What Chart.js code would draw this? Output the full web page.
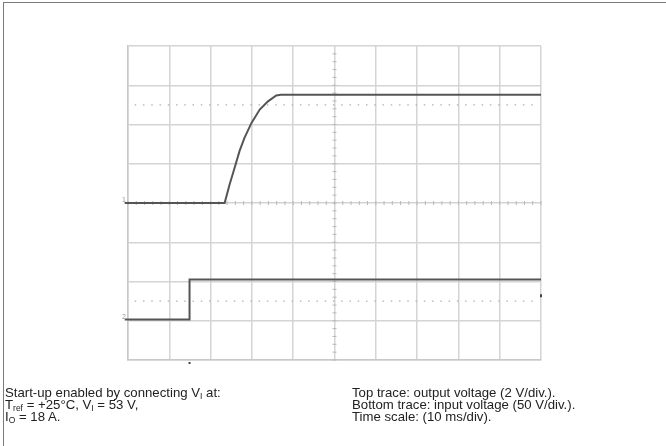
<!DOCTYPE html>
<html>
<head>
<meta charset="utf-8">
<script src="https://cdn.jsdelivr.net/npm/chart.js@4/dist/chart.umd.min.js"></script>
<style>
  body { margin: 0; background: #fff; }
  #wrap { position: relative; width: 666px; height: 446px; overflow: hidden; }
  #frame { position: absolute; left: 3px; top: 2px; width: 700px; height: 500px;
           border-left: 1px solid #7a7a7a; border-top: 1px solid #7a7a7a; }
  .note { position: absolute; top: 387px; font-family: "Liberation Sans", Arial, sans-serif;
          font-size: 13.2px; color: #222; white-space: nowrap; }
  .note div { height: 12px; line-height: 12px; }
  .note sub { font-size: 8.5px; vertical-align: -2px; line-height: 0; }
</style>
</head>
<body>
<div id="wrap">
  <canvas id="scope" width="666" height="446"></canvas>
  <div id="frame"></div>
  <div class="note" style="left:5px">
    <div>Start-up enabled by connecting V<sub>I</sub> at:</div>
    <div>T<sub>ref</sub> = +25°C, V<sub>I</sub> = 53 V,</div>
    <div>I<sub>O</sub> = 18 A.</div>
  </div>
  <div class="note" style="left:352px">
    <div>Top trace: output voltage (2 V/div.).</div>
    <div>Bottom trace: input voltage (50 V/div.).</div>
    <div>Time scale: (10 ms/div).</div>
  </div>
</div>
<script>
// time in ms, amplitude in screen divisions (centre line = 0)
const outTime = [-0.8, 23.4, 24.6, 25.8, 27.0, 28.2, 29.9, 31.9, 33.9, 35.9, 37.0, 100];
const outDiv  = [0, 0, 0.47, 0.89, 1.32, 1.66, 2.04, 2.38, 2.59, 2.74, 2.76, 2.76];

const inTime = [-0.8, 14.9, 14.9, 100];
const inDiv  = [-2.97, -2.97, -1.95, -1.95];

const refTime = [0.8, 99.2];
const refTop = [2.5, 2.5];
const refBottom = [-2.5, -2.5];

const pts = (xs, ys) => xs.map((x, i) => ({ x: x, y: ys[i] }));

// minor ticks along the centre cross, like the scope graticule
const graticule = {
  id: "graticule",
  beforeDatasetsDraw(chart) {
    const { ctx, scales: { x, y } } = chart;
    const cx = x.getPixelForValue(50), cy = y.getPixelForValue(0);
    ctx.save();
    ctx.strokeStyle = "#b8b8b8";
    ctx.lineWidth = 1;
    ctx.beginPath();
    for (let t = 0; t <= 100; t += 2) {
      const px = x.getPixelForValue(t);
      ctx.moveTo(px, cy - 2); ctx.lineTo(px, cy + 2);
    }
    for (let d = -4; d <= 4; d += 0.2) {
      const py = y.getPixelForValue(d);
      ctx.moveTo(cx - 2, py); ctx.lineTo(cx + 2, py);
    }
    ctx.stroke();
    // channel markers
    ctx.fillStyle = "#999";
    ctx.font = "7px Arial";
    ctx.fillText("1", x.getPixelForValue(0) - 6, y.getPixelForValue(0) - 1);
    ctx.fillText("2", x.getPixelForValue(0) - 6, y.getPixelForValue(-2.97) - 1);
    ctx.fillStyle = "#444";
    ctx.fillRect(x.getPixelForValue(14.9) - 1, y.getPixelForValue(-4) + 2, 2, 2);
    ctx.fillRect(x.getPixelForValue(100) - 1, y.getPixelForValue(-2.35) - 1, 2, 3);
    ctx.restore();
  }
};

new Chart(document.getElementById("scope"), {
  type: "scatter",
  data: {
    datasets: [
      { data: pts(refTime, refTop), showLine: true, borderColor: "#b0b0b0", borderWidth: 1.2,
        borderDash: [1.5, 6.76], borderDashOffset: -3.4, pointRadius: 0 },
      { data: pts(refTime, refBottom), showLine: true, borderColor: "#b0b0b0", borderWidth: 1.2,
        borderDash: [1.5, 6.76], borderDashOffset: -3.4, pointRadius: 0 },
      { data: pts(outTime, outDiv), showLine: true, borderColor: "#555555", borderWidth: 2,
        pointRadius: 0, tension: 0, clip: false },
      { data: pts(inTime, inDiv), showLine: true, borderColor: "#555555", borderWidth: 2,
        pointRadius: 0, tension: 0, clip: false }
    ]
  },
  options: {
    responsive: false,
    animation: false,
    events: [],
    layout: { padding: { left: 128, right: 125, top: 46, bottom: 86 } },
    plugins: { legend: { display: false }, tooltip: { enabled: false } },
    scales: {
      x: {
        type: "linear", min: 0, max: 100,
        ticks: { display: false, stepSize: 10 },
        grid: { color: "#d4d4d4", lineWidth: 1.5, drawTicks: false },
        border: { color: "#c8c8c8", width: 1.5 }
      },
      y: {
        min: -4, max: 4,
        ticks: { display: false, stepSize: 1 },
        grid: { color: "#d4d4d4", lineWidth: 1.5, drawTicks: false },
        border: { color: "#c8c8c8", width: 1.5 }
      }
    }
  },
  plugins: [graticule]
});
</script>
</body>
</html>
